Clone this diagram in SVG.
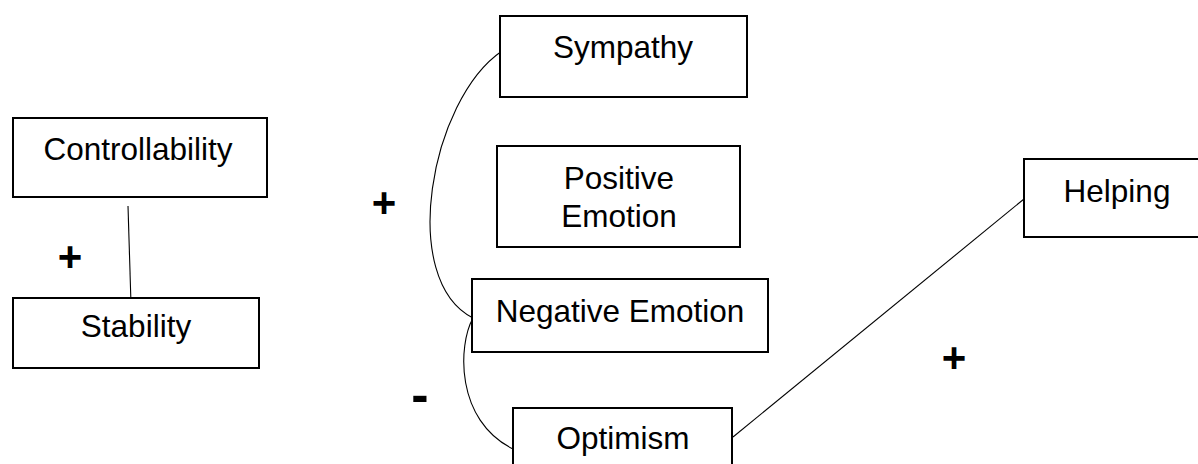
<svg xmlns="http://www.w3.org/2000/svg" width="1198" height="464" viewBox="0 0 1198 464">
<style>
.box{fill:#fff;stroke:#000;stroke-width:2}
.lbl{font-family:"Liberation Sans",Arial,sans-serif;font-size:31.5px;fill:#000;text-anchor:middle}
.sign{font-family:"Liberation Sans",Arial,sans-serif;font-size:42px;font-weight:bold;fill:#000;text-anchor:middle}
.conn{fill:none;stroke:#000;stroke-width:1.1}
</style>
<rect width="1198" height="464" fill="#fff"/>
<g id="connectors">
<line class="conn" x1="128" y1="206" x2="131" y2="304"/>
<path class="conn" d="M502,51 C430,100 398,280 473,318"/>
<path class="conn" d="M473,318 C458,345 455,420 513,449"/>
<line class="conn" x1="733" y1="437" x2="1024" y2="199"/>
</g>
<g id="controllability">
<rect class="box" x="13" y="118" width="254" height="79"/>
<text class="lbl" x="138" y="160">Controllability</text>
</g>
<g id="stability">
<rect class="box" x="13" y="298" width="246" height="70"/>
<text class="lbl" x="136" y="337">Stability</text>
</g>
<g id="sympathy">
<rect class="box" x="500" y="16" width="247" height="81"/>
<text class="lbl" x="623" y="58">Sympathy</text>
</g>
<g id="positive-emotion">
<rect class="box" x="497" y="146" width="243" height="101"/>
<text class="lbl" x="619" y="189">Positive</text>
<text class="lbl" x="619" y="227">Emotion</text>
</g>
<g id="negative-emotion">
<rect class="box" x="472" y="279" width="296" height="73"/>
<text class="lbl" x="620" y="322">Negative Emotion</text>
</g>
<g id="optimism">
<rect class="box" x="513" y="408" width="219" height="70"/>
<text class="lbl" x="623" y="449">Optimism</text>
</g>
<g id="helping">
<rect class="box" x="1024" y="159" width="190" height="78"/>
<text class="lbl" x="1117" y="202">Helping</text>
</g>
<g id="signs">
<text class="sign" x="70" y="271">+</text>
<text class="sign" x="384" y="217">+</text>
<text class="sign" x="420" y="412" style="font-size:52px">-</text>
<text class="sign" x="954" y="372">+</text>
</g>
</svg>
